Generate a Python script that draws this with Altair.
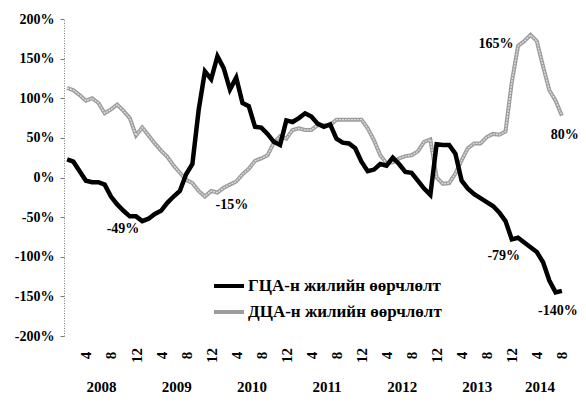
import altair as alt
import pandas as pd

# Month index 1 = Jan 2008 ... 80 = Aug 2014
month_idx = list(range(1, 81))
start_year = 2008

series_names = ["ГЦА-н жилийн өөрчлөлт", "ДЦА-н жилийн өөрчлөлт"]

gca = [23, 20, 8, -4, -6, -6, -9, -24, -34, -42,
       -49, -49, -55, -52, -46, -42, -32, -24, -17, 4,
       17, 85, 134, 124, 153, 138, 111, 126, 94, 90,
       64, 63, 55, 45, 41, 72, 70, 75, 81, 77,
       68, 64, 67, 49, 44, 43, 37, 20, 8, 10,
       17, 15, 25, 17, 7, 6, -4, -14, -22, 42,
       41, 41, 30, -4, -14, -21, -26, -31, -36, -44,
       -55, -78, -76, -82, -88, -94, -107, -130, -145, -143]

dca = [113, 110, 104, 97, 100, 94, 81, 86, 92, 84,
       75, 53, 63, 53, 43, 34, 26, 15, 6, -3,
       -7, -17, -24, -17, -19, -13, -9, -5, 4, 11,
       21, 24, 28, 44, 52, 49, 60, 62, 60, 60,
       66, 66, 66, 73, 73, 73, 73, 73, 62, 47,
       28, 18, 19, 24, 27, 28, 33, 45, 48, 0,
       -8, -7, 5, 22, 37, 43, 43, 51, 55, 54,
       58, 120, 166, 172, 180, 172, 140, 110, 97, 78]

y_ticks = [-200, -150, -100, -50, 0, 50, 100, 150, 200]
x_tick_months = list(range(4, 81, 4))

# annotations: (series index, month index, text, dx, dy)
annotations = [
    (0, 12, "-49%", -13, 13),
    (1, 23, "-15%", 27, 8),
    (1, 73, "165%", -22, -2),
    (1, 80, "80%", 3, 19),
    (0, 72, "-79%", -8, 17),
    (0, 80, "-140%", -4, 20),
]

FONT = "Liberation Serif"

df = pd.DataFrame({
    "m": month_idx * 2,
    "v": gca + dca,
    "s": [series_names[0]] * len(gca) + [series_names[1]] * len(dca),
})

year_of = [start_year + (m - 1) // 12 for m in month_idx]
ydf = pd.DataFrame({"m": month_idx, "year": year_of})
years_df = ydf.groupby("year", as_index=False)["m"].mean()
years_df["label"] = years_df["year"].astype(str)

x_axis = alt.Axis(values=x_tick_months, labelExpr="((datum.value - 1) % 12) + 1",
                  labelAngle=270, labelAlign="center", labelBaseline="middle",
                  labelPadding=19, labelOverlap=False, labelBound=False,
                  domain=False, ticks=False, grid=False,
                  labelFont=FONT, labelFontSize=15, labelFontWeight="bold",
                  labelColor="black", title=None)
y_axis = alt.Axis(values=y_ticks, labelExpr="datum.value + '%'", grid=False,
                  labelOverlap=False, labelBound=False,
                  domainColor="#7a7a7a", domainDash=[1, 1.5], tickColor="#7a7a7a",
                  tickSize=4, labelPadding=6, labelFont=FONT, labelFontSize=14,
                  labelFontWeight="bold", labelColor="black", title=None)
x_scale = alt.Scale(domain=[0.5, 80.5], nice=False, zero=False)
y_scale = alt.Scale(domain=[-200, 200], nice=False)


def xe():
    return alt.X("m:Q", scale=x_scale, axis=x_axis)


def ye():
    return alt.Y("v:Q", scale=y_scale, axis=y_axis)


color_enc = alt.Color("s:N",
                      scale=alt.Scale(domain=series_names, range=["#000000", "#9c9c9c"]),
                      legend=alt.Legend(orient="none", legendX=148, legendY=250, title=None,
                                        symbolType="stroke", symbolSize=900,
                                        symbolStrokeWidth=4, labelOffset=2, rowPadding=1,
                                        padding=0, labelLimit=0, labelFont=FONT,
                                        labelFontSize=17, labelFontWeight="bold",
                                        labelColor="black"))

base = alt.Chart(df)
black_line = base.transform_filter(alt.datum.s == series_names[0]).mark_line(
    strokeWidth=4.5).encode(x=xe(), y=ye(), color=color_enc, order="m:Q")
grey_line = base.transform_filter(alt.datum.s == series_names[1]).mark_line(
    strokeWidth=4).encode(x=xe(), y=ye(), color=color_enc, order="m:Q")
grey_inner = base.transform_filter(alt.datum.s == series_names[1]).mark_line(
    strokeWidth=1.4, color="#dedede", strokeDash=[2, 1]).encode(x=xe(), y=ye(), order="m:Q")

layers = [grey_line, grey_inner, black_line]

series_vals = [gca, dca]
for si, mi, txt, dx, dy in annotations:
    adf = pd.DataFrame({"m": [mi], "v": [series_vals[si][mi - 1]], "t": [txt]})
    layers.append(alt.Chart(adf).mark_text(font=FONT, fontSize=14, fontWeight="bold",
                                           color="black", dx=dx, dy=dy).encode(
        x=xe(), y=ye(), text="t:N"))

year_text = alt.Chart(years_df).mark_text(font=FONT, fontSize=15, fontWeight="bold",
                                          color="black", baseline="bottom").encode(
    x=xe(), y=alt.value(376), text="label:N")
layers.append(year_text)

chart = alt.layer(*layers).properties(
    width=501, height=317,
    padding={"left": 56, "top": 11, "right": 13, "bottom": 59},
    autosize=alt.AutoSizeParams(type="none"),
    background="white",
).configure_view(stroke=None).configure_axis(labelOverlap=False)

chart.save("out.html", embed_options={"renderer": "svg", "actions": False})
